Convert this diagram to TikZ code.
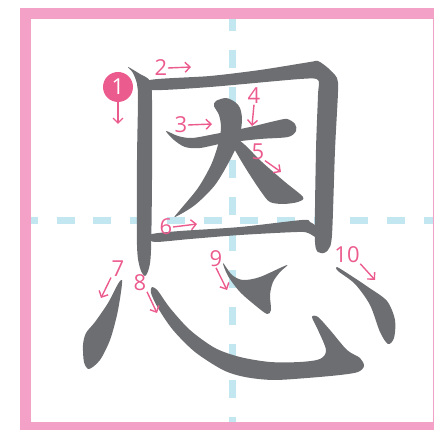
\documentclass[tikz,border=0pt]{standalone}
\usepackage{fontspec}
\usepackage{xcolor}
\usepackage{tikz}
\usetikzlibrary{arrows.meta}
\newfontfamily\numfont{Open Sans}
\definecolor{inkgray}{RGB}{109,110,113}
\definecolor{framepink}{RGB}{243,161,199}
\definecolor{labelpink}{RGB}{236,91,142}
\definecolor{guideblue}{RGB}{194,231,240}

\begin{document}
\begin{tikzpicture}[
  x=1pt, y=-1pt,
  ink/.style={fill=inkgray},
  guide/.style={draw=guideblue, line width=7pt, dash pattern=on 18pt off 18.7pt},
  edge/.style={fill=framepink},
  num/.style={text=labelpink, font=\numfont\fontsize{22}{22}\selectfont, inner sep=0.5pt},
  first/.style={circle, fill=labelpink, text=white, minimum size=30pt, inner sep=0pt, font=\numfont\fontsize{22}{22}\selectfont},
  arr/.style={draw=labelpink, line width=1.4pt, -{Straight Barb[length=5pt, width=10pt, line width=1.4pt]}}
]
\useasboundingbox (0,0) rectangle (434,430);

% guide lines
\draw[guide] (232.5,13.3) -- (232.5,422);
\draw[guide] (20,221) -- (433,221);

% frame
\fill[edge] (20,8) rectangle (434,19); \fill[edge] (20,8) rectangle (31,430);
\fill[edge] (433,8) rectangle (434,430); \fill[edge] (20,422) rectangle (434,430);

% strokes
\fill[ink] plot[smooth cycle, tension=0.5] coordinates {(128,67) (140,74) (150,81) (152,100) (152,180) (151,250) (149,268) (145,276) (140,268) (137,245) (137,160) (138,100) (137,84) (133,73)};
\fill[ink] plot[smooth cycle, tension=0.45] coordinates {(150,80) (210,76) (260,70) (310,62) (318,61) (328,68) (337,78) (338,92) (335,150) (332,235) (328,250) (321,253) (315,242) (316,150) (318,95) (318,80) (300,79) (210,87) (150,90)};
\fill[ink] plot[smooth cycle, tension=0.5] coordinates {(166,131) (178,136) (192,138) (215,134) (250,127) (275,121) (287,119) (295,124) (296,131) (288,137) (260,139) (225,143) (200,148) (185,147) (174,140)};
\fill[ink] plot[smooth cycle, tension=0.5] coordinates {(216,101) (226,98) (235,102) (240,108) (242,120) (239,140) (230,160) (215,185) (195,205) (175,217) (180,210) (198,188) (211,165) (218,145) (221,128) (219,115) (214,106)};
\fill[ink] plot[smooth cycle, tension=0.5] coordinates {(233,136) (245,145) (262,162) (285,182) (303,197) (298,202) (283,204) (270,202) (262,193) (248,172) (236,152) (231,142)};
\fill[ink] plot[smooth cycle, tension=0.5] coordinates {(152,234) (180,231) (240,227) (302,220) (310,222) (318,228) (318,238) (308,233) (297,232) (240,235) (190,239) (155,242) (150,238)};
\fill[ink] plot[smooth cycle, tension=0.5] coordinates {(122,280) (121,292) (117,315) (110,340) (100,360) (89,369) (84,362) (83,345) (86,333) (95,322) (108,303) (118,284)};
\fill[ink] plot[smooth cycle, tension=0.5] coordinates {(152,287) (158,291) (170,308) (190,330) (215,348) (240,357) (270,362) (300,362) (320,359) (326,350) (318,330) (312,317) (318,317) (330,330) (347,350) (360,358) (364,366) (358,372) (340,375) (307,378) (273,380) (245,377) (223,370) (195,352) (173,330) (158,308) (151,293)};
\fill[ink] plot[smooth cycle, tension=0.5] coordinates {(223,263) (232,275) (243,280) (260,277) (287,265) (280,272) (273,282) (270,295) (271,310) (267,314) (256,306) (240,292) (228,276)};
\fill[ink] plot[smooth cycle, tension=0.5] coordinates {(337,267) (350,275) (368,287) (387,301) (395,320) (394,338) (388,344) (380,332) (370,305) (355,284) (338,271)};

% stroke numbers
\node[first] (c1) at (118,87) {1};
\node[num] (n2) at (161,68) {2}; \node[num] (n3) at (181,125) {3};
\node[num] (n4) at (254,96) {4}; \node[num] (n5) at (258,152) {5};
\node[num] (n6) at (166,227) {6}; \node[num] (n7) at (118,269) {7};
\node[num] (n8) at (140,283) {8}; \node[num] (n9) at (216,259) {9};
\node[num] (n10) at (347,255) {10};

\coordinate (t1) at (118,124); \coordinate (t2) at (191,67); \coordinate (t3) at (212,124);
\coordinate (t4) at (252,126); \coordinate (t5) at (281,172); \coordinate (t6) at (197,224);
\coordinate (t7) at (101,298); \coordinate (t8) at (157,313); \coordinate (t9) at (227,290);
\coordinate (t10) at (375,280);
\draw[arr] (c1.south) -- (t1); \draw[arr] (n2.east) -- (t2); \draw[arr] (n3.east) -- (t3);
\draw[arr] (n4.south) -- (t4); \draw[arr] (n5.south east) -- (t5); \draw[arr] (n6.east) -- (t6);
\draw[arr] (n7.south west) -- (t7); \draw[arr] (n8.south east) -- (t8); \draw[arr] (n9.south) -- (t9);
\draw[arr] (n10.south east) -- (t10);
\end{tikzpicture}
\end{document}
